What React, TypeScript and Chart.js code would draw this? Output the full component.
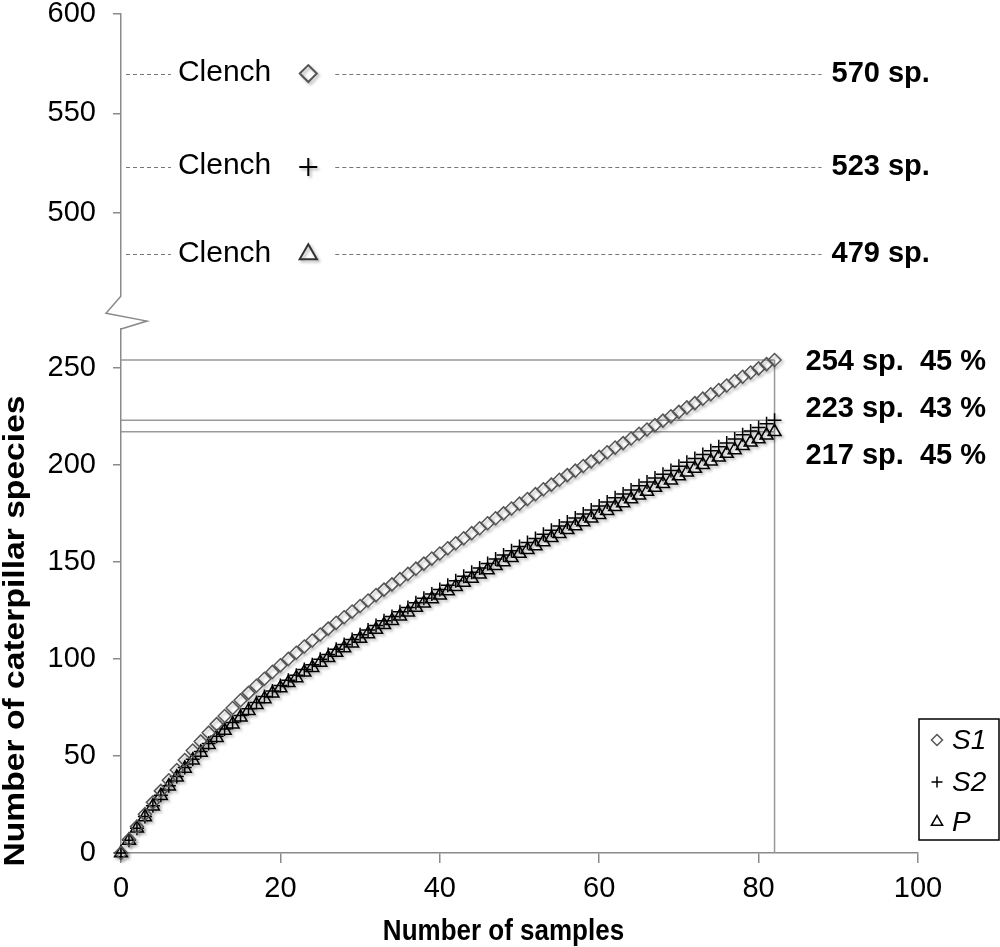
import React, { useEffect, useRef } from 'react';
import { Chart, registerables } from 'chart.js';

Chart.register(...registerables);

const FONT = "'Liberation Sans', Arial, Helvetica, sans-serif";

const samples = [
  0, 1, 2, 3, 4, 5, 6, 7, 8, 9, 10, 11, 12, 13, 14, 15, 16, 17, 18, 19, 20,
  21, 22, 23, 24, 25, 26, 27, 28, 29, 30, 31, 32, 33, 34, 35, 36, 37, 38, 39, 40,
  41, 42, 43, 44, 45, 46, 47, 48, 49, 50, 51, 52, 53, 54, 55, 56, 57, 58, 59, 60,
  61, 62, 63, 64, 65, 66, 67, 68, 69, 70, 71, 72, 73, 74, 75, 76, 77, 78, 79, 80,
  81, 82,
];

const s1Values = [
  0, 7.0, 13.6, 20.0, 26.1, 32.0, 37.5, 42.8, 47.9, 52.8,
  57.5, 62.0, 66.4, 70.6, 74.7, 78.7, 82.5, 86.2, 89.8, 93.3,
  96.7, 100.0, 103.2, 106.4, 109.5, 112.6, 115.6, 118.6, 121.5, 124.4,
  127.3, 130.1, 132.9, 135.7, 138.4, 141.1, 143.8, 146.5, 149.1, 151.7,
  154.3, 157.0, 159.6, 162.2, 164.8, 167.3, 169.9, 172.5, 175.0, 177.5,
  180.0, 182.4, 184.9, 187.4, 189.8, 192.3, 194.7, 197.0, 199.4, 201.8,
  204.1, 206.5, 208.9, 211.2, 213.6, 216.0, 218.2, 220.5, 222.8, 225.0,
  227.3, 229.6, 231.8, 234.1, 236.4, 238.6, 240.9, 243.2, 245.4, 247.6,
  249.7, 251.9, 254.0,
];

const s2Values = [
  0, 6.6, 12.8, 18.8, 24.3, 29.8, 34.7, 39.4, 44.1, 48.3,
  52.3, 56.4, 60.1, 63.9, 67.2, 70.8, 74.3, 77.5, 80.6, 83.5,
  86.3, 89.0, 91.6, 94.5, 97.0, 99.8, 102.3, 105.0, 107.4, 110.0,
  112.4, 114.9, 117.2, 119.7, 121.9, 124.3, 126.5, 128.9, 131.2, 133.5,
  135.8, 138.0, 140.3, 142.6, 144.7, 146.9, 149.2, 151.5, 153.5, 155.7,
  157.9, 160.0, 162.0, 164.2, 166.3, 168.5, 170.6, 172.6, 174.7, 176.8,
  178.8, 180.9, 183.0, 185.0, 187.1, 189.2, 191.1, 193.2, 195.2, 197.1,
  199.3, 201.4, 203.3, 205.3, 207.3, 209.3, 211.3, 213.3, 215.5, 217.4,
  219.2, 221.2, 223.0,
];

const pValues = [
  0, 6.5, 12.7, 18.6, 24.1, 29.5, 34.4, 39.0, 43.6, 47.8,
  51.8, 55.8, 59.4, 63.1, 66.4, 69.9, 73.3, 76.4, 79.4, 82.3,
  85.0, 87.7, 90.2, 93.1, 95.5, 98.2, 100.6, 103.3, 105.6, 108.1,
  110.5, 112.9, 115.1, 117.6, 119.7, 122.0, 124.1, 126.5, 128.7, 130.9,
  132.8, 135.0, 137.2, 139.4, 141.5, 143.6, 145.8, 148.0, 150.0, 152.1,
  154.3, 156.3, 158.2, 160.3, 162.4, 164.5, 166.5, 168.5, 170.5, 172.5,
  174.3, 176.4, 178.4, 180.4, 182.4, 184.4, 186.3, 188.3, 190.2, 192.1,
  194.2, 196.2, 198.1, 200.0, 201.9, 203.9, 205.8, 207.7, 209.8, 211.6,
  213.3, 215.2, 217.0,
];

const seriesNames = ['S1', 'S2', 'P'];
const xTicks = [0, 20, 40, 60, 80, 100];
const yLowTicks = [0, 50, 100, 150, 200, 250];
const yTopTicks = [500, 550, 600];
const observedTotals = [254, 223, 217];
const observedLabels = ['254 sp.  45 %', '223 sp.  43 %', '217 sp.  45 %'];
const clenchValues = [570, 523, 479];
const clenchLabels = ['570 sp.', '523 sp.', '479 sp.'];
const clenchName = 'Clench';
const clenchSample = 23.5;
const lastSample = 82;

type Kind = 'diamond' | 'plus' | 'triangle';
const kinds: Kind[] = ['diamond', 'plus', 'triangle'];

function drawMarker(ctx: CanvasRenderingContext2D, kind: Kind, x: number, y: number, r: number) {
  ctx.beginPath();
  if (kind === 'diamond') {
    ctx.moveTo(x, y - r);
    ctx.lineTo(x + r, y);
    ctx.lineTo(x, y + r);
    ctx.lineTo(x - r, y);
    ctx.closePath();
  } else if (kind === 'plus') {
    ctx.moveTo(x - r, y);
    ctx.lineTo(x + r, y);
    ctx.moveTo(x, y - r);
    ctx.lineTo(x, y + r);
  } else {
    ctx.moveTo(x, y - r);
    ctx.lineTo(x + r * 0.866, y + r * 0.5);
    ctx.lineTo(x - r * 0.866, y + r * 0.5);
    ctx.closePath();
  }
  ctx.stroke();
}

const AXIS = '#8a8a8a';

export default function App() {
  const ref = useRef<HTMLCanvasElement>(null);

  useEffect(() => {
    const canvas = ref.current;
    if (!canvas) return;

    const overlay = {
      id: 'overlay',
      beforeDatasetsDraw(chart: any) {
        const { ctx, chartArea, scales } = chart;
        const x = scales.x;
        const yl = scales.yLow;
        const yt = scales.yTop;
        const yg = scales.yGap;
        ctx.save();
        // axis break zigzag
        ctx.strokeStyle = AXIS;
        ctx.lineWidth = 1.5;
        const L = chartArea.left;
        const t = yg.top;
        const b = yg.bottom;
        const h = b - t;
        ctx.beginPath();
        ctx.moveTo(L, t);
        ctx.lineTo(L - 15, t + h * 0.52);
        ctx.lineTo(L + 26, t + h * 0.76);
        ctx.lineTo(L, b);
        ctx.stroke();

        // observed totals lines
        const xe = x.getPixelForValue(lastSample);
        ctx.strokeStyle = '#999';
        ctx.lineWidth = 1.5;
        observedTotals.forEach((v) => {
          const py = yl.getPixelForValue(v);
          ctx.beginPath();
          ctx.moveTo(L, py);
          ctx.lineTo(xe, py);
          ctx.stroke();
        });
        ctx.beginPath();
        ctx.moveTo(xe, yl.getPixelForValue(0));
        ctx.lineTo(xe, yl.getPixelForValue(observedTotals[0]));
        ctx.stroke();

        // Clench dashed lines
        ctx.font = `30px ${FONT}`;
        const cw = ctx.measureText(clenchName).width;
        const mx = x.getPixelForValue(clenchSample);
        const textRight = mx - 37;
        const textLeft = textRight - cw;
        const labelX = xe + 57;
        ctx.setLineDash([4, 3]);
        ctx.lineWidth = 1;
        ctx.strokeStyle = '#777';
        clenchValues.forEach((v) => {
          const py = Math.round(yt.getPixelForValue(v)) + 0.5;
          ctx.beginPath();
          ctx.moveTo(L + 5, py);
          ctx.lineTo(textLeft - 7, py);
          ctx.moveTo(mx + 27, py);
          ctx.lineTo(labelX - 10, py);
          ctx.stroke();
        });
        ctx.restore();
        // soft drop shadow for the markers, as in the reference
        ctx.save();
        ctx.shadowColor = 'rgba(0,0,0,0.3)';
        ctx.shadowBlur = 3;
        ctx.shadowOffsetX = 2;
        ctx.shadowOffsetY = 2;
      },
      afterDatasetsDraw(chart: any) {
        chart.ctx.restore();
      },
      afterDraw(chart: any) {
        const { ctx, chartArea, scales } = chart;
        const x = scales.x;
        const yl = scales.yLow;
        const yt = scales.yTop;
        ctx.save();
        ctx.fillStyle = '#000';
        const xe = x.getPixelForValue(lastSample);

        // Clench texts and labels
        ctx.textBaseline = 'middle';
        const mx = x.getPixelForValue(clenchSample);
        clenchValues.forEach((v, i) => {
          const py = yt.getPixelForValue(v);
          ctx.font = `30px ${FONT}`;
          ctx.textAlign = 'right';
          ctx.fillText(clenchName, mx - 37, py - 1);
          ctx.font = `bold 29px ${FONT}`;
          ctx.textAlign = 'left';
          ctx.fillText(clenchLabels[i], xe + 57, py);
        });

        // observed labels
        ctx.font = `bold 29px ${FONT}`;
        ctx.textAlign = 'left';
        const baseY = yl.getPixelForValue(observedTotals[0]) + 2;
        observedLabels.forEach((lab, i) => {
          ctx.fillText(lab, xe + 31, baseY + i * 47);
        });

        // legend
        const bx = 919;
        const by = 719;
        ctx.strokeStyle = '#000';
        ctx.lineWidth = 1.5;
        ctx.strokeRect(bx, by, 80, 121);
        const rows = [21, 63, 103];
        seriesNames.forEach((name, i) => {
          const ry = by + rows[i];
          ctx.strokeStyle = i === 0 ? '#555' : '#000';
          ctx.lineWidth = 1.5;
          drawMarker(ctx, kinds[i], bx + 18, ry, i === 2 ? 6.5 : 5.5);
          ctx.fillStyle = '#000';
          ctx.font = `italic 28px ${FONT}`;
          ctx.textAlign = 'left';
          ctx.textBaseline = 'middle';
          ctx.fillText(name, bx + 33, ry + 1);
        });

        // axis titles
        ctx.fillStyle = '#000';
        ctx.font = `bold 26px ${FONT}`;
        ctx.textAlign = 'center';
        ctx.textBaseline = 'alphabetic';
        ctx.save();
        ctx.translate((chartArea.left + chartArea.right) / 2 - 16, 940);
        ctx.scale(1, 1.1);
        ctx.fillText('Number of samples', 0, 0);
        ctx.restore();

        ctx.save();
        ctx.translate(16, 631);
        ctx.rotate(-Math.PI / 2);
        ctx.scale(1.16, 1);
        ctx.textBaseline = 'middle';
        ctx.font = `bold 29px ${FONT}`;
        ctx.fillText('Number of caterpillar species', 0, 0);
        ctx.restore();

        ctx.restore();
      },
    };

    const noPad = (s: any) => {
      s.paddingTop = 0;
      s.paddingBottom = 0;
      s.paddingLeft = 0;
      s.paddingRight = 0;
    };

    const yCommon = (ticksArr: number[] | null) => ({
      type: 'linear' as const,
      position: 'left' as const,
      stack: 'y',
      afterBuildTicks: (s: any) => {
        s.ticks = ticksArr ? ticksArr.map((v) => ({ value: v })) : [];
      },
      afterFit: (s: any) => {
        s.width = 121;
        noPad(s);
      },
    });

    const pointCommon = {
      showLine: false,
      clip: false as any,
      backgroundColor: 'rgba(0,0,0,0)',
    };

    const chart = new Chart(canvas, {
      type: 'scatter',
      data: {
        datasets: [
          {
            ...pointCommon,
            label: seriesNames[0],
            data: samples.map((s, i) => ({ x: s, y: s1Values[i] })),
            yAxisID: 'yLow',
            pointStyle: 'rectRot',
            pointRadius: 6.5,
            borderColor: '#555',
            borderWidth: 1.5,
          },
          {
            ...pointCommon,
            label: seriesNames[1],
            data: samples.map((s, i) => ({ x: s, y: s2Values[i] })),
            yAxisID: 'yLow',
            pointStyle: 'cross',
            pointRadius: 7,
            borderColor: '#000',
            borderWidth: 1.5,
          },
          {
            ...pointCommon,
            label: seriesNames[2],
            data: samples.map((s, i) => ({ x: s, y: pValues[i] })),
            yAxisID: 'yLow',
            pointStyle: 'triangle',
            pointRadius: 7.5,
            borderColor: '#000',
            borderWidth: 1.5,
          },
          {
            ...pointCommon,
            label: 'Clench S1',
            data: [{ x: clenchSample, y: clenchValues[0] }],
            yAxisID: 'yTop',
            pointStyle: 'rectRot',
            pointRadius: 8.5,
            borderColor: '#555',
            borderWidth: 2,
          },
          {
            ...pointCommon,
            label: 'Clench S2',
            data: [{ x: clenchSample, y: clenchValues[1] }],
            yAxisID: 'yTop',
            pointStyle: 'cross',
            pointRadius: 9,
            borderColor: '#000',
            borderWidth: 2,
          },
          {
            ...pointCommon,
            label: 'Clench P',
            data: [{ x: clenchSample, y: clenchValues[2] }],
            yAxisID: 'yTop',
            pointStyle: 'triangle',
            pointRadius: 10,
            borderColor: '#333',
            borderWidth: 2,
          },
        ],
      },
      options: {
        animation: false,
        responsive: false,
        maintainAspectRatio: false,
        events: [],
        layout: { padding: { top: 14, right: 82, left: 0, bottom: 0 } },
        plugins: {
          legend: { display: false },
          tooltip: { enabled: false },
        },
        scales: {
          x: {
            type: 'linear',
            min: 0,
            max: 100,
            afterBuildTicks: (s: any) => {
              s.ticks = xTicks.map((v) => ({ value: v }));
            },
            afterFit: (s: any) => {
              s.height = 94;
              noPad(s);
            },
            ticks: {
              font: { family: FONT, size: 29 },
              color: '#000',
              padding: 9,
              maxRotation: 0,
            },
            grid: { drawOnChartArea: false, tickLength: 10, color: AXIS, lineWidth: 1.5 },
            border: { color: AXIS, width: 1.5 },
          },
          yLow: {
            ...yCommon(yLowTicks),
            min: 0,
            max: 270,
            stackWeight: 524,
            ticks: { font: { family: FONT, size: 29 }, color: '#000', padding: 17 },
            grid: { drawOnChartArea: false, tickLength: 8, color: AXIS, lineWidth: 1.5 },
            border: { color: AXIS, width: 1.5 },
          },
          yGap: {
            ...yCommon(null),
            min: 0,
            max: 1,
            stackWeight: 33,
            ticks: { display: false },
            grid: { display: false },
            border: { display: false },
          },
          yTop: {
            ...yCommon(yTopTicks),
            min: 458,
            max: 600,
            stackWeight: 282,
            ticks: { font: { family: FONT, size: 29 }, color: '#000', padding: 17 },
            grid: { drawOnChartArea: false, tickLength: 8, color: AXIS, lineWidth: 1.5 },
            border: { color: AXIS, width: 1.5 },
          },
        } as any,
      },
      plugins: [overlay],
    } as any);

    return () => chart.destroy();
  }, []);

  return (
    <canvas
      ref={ref}
      width={1000}
      height={947}
      style={{ position: 'absolute', left: 0, top: 0, width: 1000, height: 947 }}
    />
  );
}
